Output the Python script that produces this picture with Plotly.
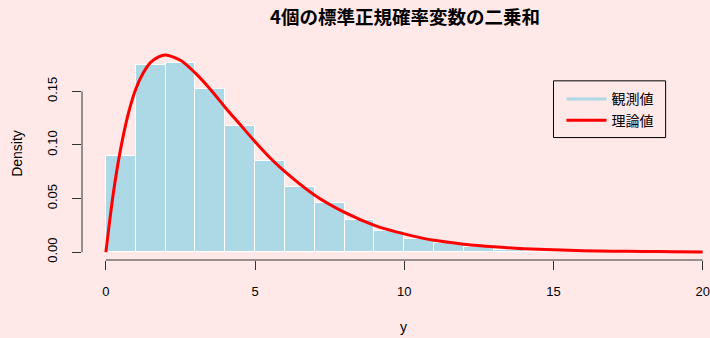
import plotly.graph_objects as go

# Histogram of the observed sums (density scale, bins of width 1 from 0 to 20)
bin_left = list(range(0, 20))
bin_density = [0.0898, 0.1743, 0.1768, 0.1524, 0.1180, 0.0846, 0.0610, 0.0458,
               0.0297, 0.0201, 0.0124, 0.0084, 0.0046, 0.0021, 0.0013, 0.0008,
               0.0005, 0.0003, 0.0002, 0.0001]

# Theoretical density curve (chi-square, 4 degrees of freedom)
curve_x = [0, 0.25, 0.5, 0.75, 1, 1.25, 1.5, 1.75, 2, 2.5, 3, 3.5, 4, 4.5, 5,
           5.5, 6, 7, 8, 9, 10, 11, 12, 13, 14, 15, 16, 17, 18, 19, 20]
curve_y = [0, 0.055, 0.097, 0.129, 0.152, 0.167, 0.177, 0.182, 0.184, 0.179,
           0.167, 0.152, 0.135, 0.119, 0.103, 0.088, 0.075, 0.053, 0.037, 0.025,
           0.017, 0.011, 0.0074, 0.0049, 0.0032, 0.0021, 0.0013, 0.0009, 0.0006,
           0.0004, 0.0002]

x_ticks = [0, 5, 10, 15, 20]
y_ticks = [0.00, 0.05, 0.10, 0.15]

title_text = "4個の標準正規確率変数の二乗和"
x_label = "y"
y_label = "Density"
legend_names = ["観測値", "理論値"]

BG = "#FFE8E8"
BAR = "#ADD8E6"
AXIS = "#333333"
FONT = "Liberation Sans, Arial, sans-serif"
CJK = "Noto Sans CJK JP, sans-serif"

# plot-area geometry in pixels
W, H = 710, 338
L, T, B = 82, 46.5, 77.5
PW, PH = W - L, H - T - B


def px_x(p):
    return (p - L) / PW


def px_y(p):
    return 1 - (p - T) / PH


fig = go.Figure()

fig.add_trace(go.Bar(
    x=[b + 0.5 for b in bin_left], y=bin_density, width=1,
    marker=dict(color=BAR, line=dict(color="white", width=1)),
    showlegend=False, hoverinfo="skip",
))

# legend entries drawn as lines
fig.add_trace(go.Scatter(
    x=[None], y=[None], mode="lines", name=legend_names[0],
    line=dict(color=BAR, width=3),
))
fig.add_trace(go.Scatter(
    x=curve_x, y=curve_y, mode="lines", name=legend_names[1],
    line=dict(color="red", width=3, shape="spline", smoothing=0.8),
))

ymax = 0.184
pad = 0.04 * ymax

fig.update_layout(
    width=W, height=H,
    paper_bgcolor=BG, plot_bgcolor=BG,
    margin=dict(l=L, r=0, t=T, b=B),
    bargap=0,
    title=dict(text="<b>" + title_text + "</b>", x=405 / W, xanchor="center",
               y=1 - 17.5 / H, yanchor="middle",
               font=dict(family=CJK, size=18.5, color="black")),
    font=dict(family=FONT, size=13, color="black"),
    showlegend=True,
    legend=dict(
        x=px_x(563), y=px_y(83), xanchor="left", yanchor="top",
        bgcolor="rgba(0,0,0,0)", borderwidth=0, itemwidth=40,
        font=dict(family=CJK, size=14, color="black"),
        tracegroupgap=0,
    ),
    xaxis=dict(
        range=[-0.8, 20.18], tickvals=x_ticks, ticktext=[str(v) for v in x_ticks],
        ticks="outside", ticklen=9, tickwidth=1, tickcolor=AXIS,
        showline=False, showgrid=False, zeroline=False,
        ticklabeloverflow="allow", ticklabelstandoff=10,
    ),
    yaxis=dict(
        range=[-pad, ymax + pad], tickvals=y_ticks, tickformat=".2f",
        ticks="outside", ticklen=9, tickwidth=1, tickcolor=AXIS,
        tickangle=-90, ticklabelstandoff=10,
        showline=False, showgrid=False, zeroline=False,
        title=dict(text=y_label, font=dict(family=FONT, size=14), standoff=18),
    ),
    annotations=[
        # x-axis title centred on the full plot region
        dict(text=x_label, xref="paper", yref="paper", x=px_x(405), y=px_y(328),
             xanchor="center", yanchor="middle", showarrow=False,
             font=dict(family=FONT, size=14, color="black")),
    ],
    shapes=[
        # R-style axis lines spanning only the tick range
        dict(type="line", xref="x", yref="paper", x0=x_ticks[0], x1=x_ticks[-1],
             y0=0, y1=0, line=dict(color=AXIS, width=1)),
        dict(type="line", xref="paper", yref="y", x0=0, x1=0,
             y0=y_ticks[0], y1=y_ticks[-1], line=dict(color=AXIS, width=1)),
        # legend frame
        dict(type="rect", xref="paper", yref="paper",
             x0=px_x(555), x1=px_x(667.5), y0=px_y(137.5), y1=px_y(80.5),
             line=dict(color="black", width=1), fillcolor="rgba(0,0,0,0)"),
    ],
)

fig.write_html("out.html")
